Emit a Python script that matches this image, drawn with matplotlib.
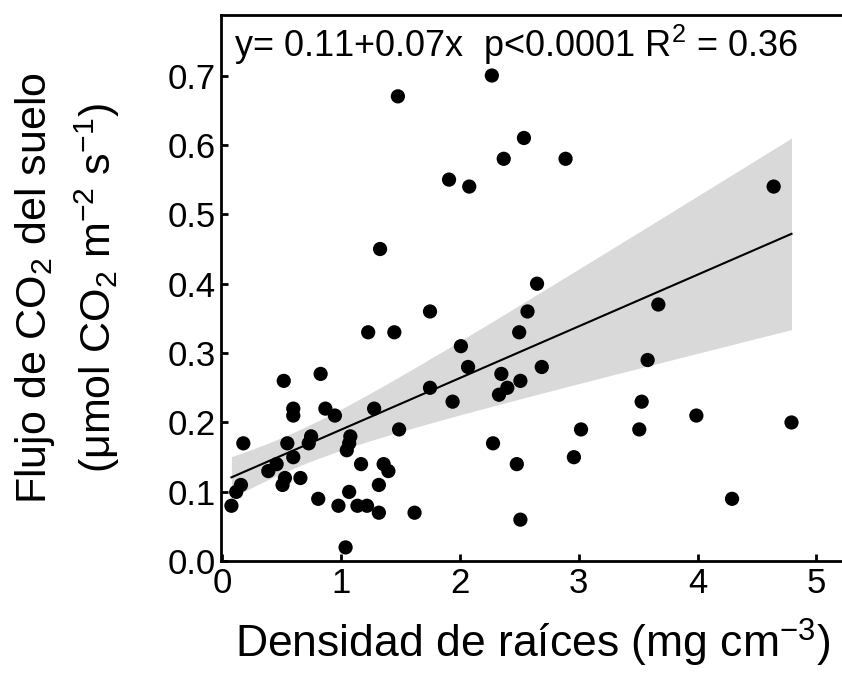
import numpy as np
import matplotlib
matplotlib.use("Agg")
import matplotlib.pyplot as plt

plt.rcParams['font.family'] = ['Liberation Sans', 'DejaVu Sans']
plt.rcParams['mathtext.fontset'] = 'custom'
plt.rcParams['mathtext.rm'] = 'Liberation Sans'
plt.rcParams['mathtext.it'] = 'Liberation Sans'

# root density (mg cm-3) vs soil CO2 flux
raices = [0.08, 0.12, 0.16, 0.18, 0.39, 0.46, 0.52, 0.51, 0.53, 0.55,
          0.60, 0.60, 0.60, 0.66, 0.73, 0.75, 0.81, 0.83, 0.87, 0.95,
          0.98, 1.04, 1.07, 1.05, 1.07, 1.08, 1.14, 1.17, 1.22, 1.28,
          1.32, 1.32, 1.36, 1.40, 1.49, 1.62, 1.75, 1.94, 2.01, 2.07,
          2.28, 2.33, 2.35, 2.40, 2.48, 2.51, 2.51, 1.48, 1.91, 1.33,
          1.75, 1.23, 1.45, 2.27, 2.54, 2.37, 2.89, 2.08, 4.64, 2.65,
          2.57, 2.50, 3.67, 3.58, 2.69, 3.53, 3.99, 3.51, 3.02, 4.79,
          2.96, 4.29]
flujo = [0.08, 0.10, 0.11, 0.17, 0.13, 0.14, 0.26, 0.11, 0.12, 0.17,
         0.22, 0.21, 0.15, 0.12, 0.17, 0.18, 0.09, 0.27, 0.22, 0.21,
         0.08, 0.02, 0.10, 0.16, 0.17, 0.18, 0.08, 0.14, 0.08, 0.22,
         0.11, 0.07, 0.14, 0.13, 0.19, 0.07, 0.25, 0.23, 0.31, 0.28,
         0.17, 0.24, 0.27, 0.25, 0.14, 0.26, 0.06, 0.67, 0.55, 0.45,
         0.36, 0.33, 0.33, 0.70, 0.61, 0.58, 0.58, 0.54, 0.54, 0.40,
         0.36, 0.33, 0.37, 0.29, 0.28, 0.23, 0.21, 0.19, 0.19, 0.20,
         0.15, 0.09]
xticks = [0, 1, 2, 3, 4, 5]
yticks = [0.0, 0.1, 0.2, 0.3, 0.4, 0.5, 0.6, 0.7]

# fitted model as drawn in the original figure
intercepto = 0.115
pendiente = 0.0745
# confidence band: half width^2 = a + b*(x - c)^2
ci_a = 0.000667
ci_b = 0.00102
ci_c = 0.545

x = np.array(raices)
y = np.array(flujo)

xs = np.linspace(x.min(), x.max(), 200)
ys = intercepto + pendiente * xs
hw = np.sqrt(ci_a + ci_b * (xs - ci_c) ** 2)

fig = plt.figure(figsize=(8.42, 6.73), dpi=100)
ax = fig.add_axes([0.263, 0.166, 0.74, 0.812])

ax.fill_between(xs, ys - hw, ys + hw, color='#d9d9d9', lw=0, zorder=1)
ax.plot(xs, ys, color='black', lw=1.5, zorder=2)
ax.scatter(x, y, s=105, color='black', edgecolors='none', zorder=3)

ax.set_xlim(-0.004, 5.236)
ax.set_ylim(0, 0.7875)
ax.set_xticks(xticks)
ax.set_yticks(yticks)
ax.set_xticklabels([str(v) for v in xticks])
ax.set_yticklabels(['%.1f' % v for v in yticks])
ax.tick_params(direction='in', length=5, width=2, labelsize=25, pad=4)
for sp in ax.spines.values():
    sp.set_linewidth(2)

ax.set_xlabel('Densidad de raíces (mg cm$^{-3}$)', fontsize=32, labelpad=12)
ax.set_ylabel('Flujo de CO$_2$ del suelo\n(μmol CO$_2$ m$^{-2}$ s$^{-1}$)',
              fontsize=31, labelpad=33, linespacing=1.4)

ax.text(0.02, 0.985, 'y= 0.11+0.07x  p<0.0001 R$^2$ = 0.36', transform=ax.transAxes,
        fontsize=26, va='top', ha='left')

fig.savefig('out.png', dpi=100)
